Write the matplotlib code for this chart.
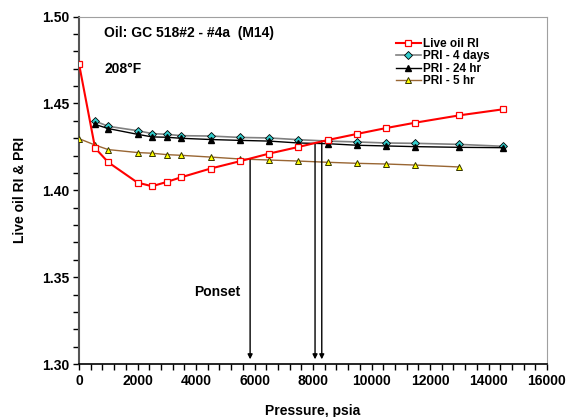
import numpy as np
import matplotlib
matplotlib.use("Agg")
import matplotlib.pyplot as plt
from matplotlib.ticker import MultipleLocator

plt.rcParams['font.family'] = ['Liberation Sans', 'DejaVu Sans']
plt.rcParams['font.weight'] = 'bold'

# === datos ===
p_live = [0, 550, 1000, 2000, 2500, 3000, 3500, 4500, 5500, 6500, 7500, 8500,
          9500, 10500, 11500, 13000, 14500]
ri_live = [1.4728, 1.4243, 1.4161, 1.4044, 1.4023, 1.4048, 1.4075, 1.4125,
           1.4167, 1.4211, 1.4249, 1.4289, 1.4324, 1.4358, 1.4389, 1.4431, 1.4466]

p_pri = [550, 1000, 2000, 2500, 3000, 3500, 4500, 5500, 6500, 7500, 8500,
         9500, 10500, 11500, 13000, 14500]
pri_4d = [1.4398, 1.4368, 1.4343, 1.4326, 1.4322, 1.4314, 1.4312, 1.4304,
          1.4301, 1.4291, 1.4283, 1.4278, 1.4272, 1.4270, 1.4264, 1.4253]
pri_24h = [1.4379, 1.4355, 1.4322, 1.4307, 1.4305, 1.4299, 1.4292, 1.4287,
           1.4283, 1.4272, 1.4268, 1.4259, 1.4255, 1.4251, 1.4247, 1.4245]

p_5h = [0, 550, 1000, 2000, 2500, 3000, 3500, 4500, 5500, 6500, 7500, 8500,
        9500, 10500, 11500, 13000]
pri_5h = [1.4297, 1.4260, 1.4234, 1.4217, 1.4213, 1.4205, 1.4201, 1.4191,
          1.4180, 1.4174, 1.4168, 1.4161, 1.4155, 1.4151, 1.4145, 1.4134]

# Ponset: presion y RI donde arranca cada flecha
p_onset = [5850, 8070, 8300]
ri_onset = [1.4182, 1.4268, 1.4283]

fig = plt.figure(figsize=(5.68, 4.17), dpi=100)
ax = fig.add_axes([79/568, 1-364/417, (547-79)/568, (364-16.5)/417])

ax.plot(p_live, ri_live, color='#ff0000', lw=1.5, marker='s', ms=4.5,
        mfc='white', mec='#ff0000', mew=0.9, label='Live oil RI', zorder=4)
ax.plot(p_pri, pri_4d, color='#808080', lw=1.2, marker='D', ms=4,
        mfc='#33cccc', mec='black', mew=0.6, label='PRI - 4 days', zorder=3)
ax.plot(p_pri, pri_24h, color='black', lw=1.0, marker='^', ms=5,
        mfc='black', mec='black', label='PRI - 24 hr', zorder=3)
ax.plot(p_5h, pri_5h, color='#996633', lw=1.0, marker='^', ms=5,
        mfc='#ffff00', mec='#333300', mew=0.7, label='PRI - 5 hr', zorder=3)

for p, r in zip(p_onset, ri_onset):
    ax.annotate('', xy=(p, 1.3027), xytext=(p, r),
                arrowprops=dict(arrowstyle='-|>', color='black', lw=1.0,
                                mutation_scale=7, shrinkA=0, shrinkB=0))

ax.text(3930, 1.3414, 'Ponset', fontsize=10, fontweight='bold', va='center')
ax.text(860, 1.4906, 'Oil: GC 518#2 - #4a  (M14)', fontsize=10,
        fontweight='bold', va='center')
ax.text(860, 1.4695, '208°F', fontsize=10, fontweight='bold', va='center')

ax.set_xlim(0, 16000)
ax.set_ylim(1.30, 1.50)
ax.xaxis.set_major_locator(MultipleLocator(2000))
ax.xaxis.set_minor_locator(MultipleLocator(400))
ax.yaxis.set_major_locator(MultipleLocator(0.05))
ax.yaxis.set_minor_locator(MultipleLocator(0.01))
ax.yaxis.set_major_formatter(matplotlib.ticker.FormatStrFormatter('%.2f'))
ax.tick_params(which='both', direction='out', length=4, width=1,
               labelsize=10, pad=3)

for lbl in ax.get_xticklabels() + ax.get_yticklabels():
    lbl.set_fontweight('bold')

ax.spines['top'].set_color('#a0a0a0')
ax.spines['right'].set_color('#a0a0a0')
ax.spines['left'].set_color('#555555')
ax.spines['left'].set_linewidth(1.5)
ax.spines['bottom'].set_color('black')
ax.spines['bottom'].set_linewidth(1.2)

ax.set_xlabel('Pressure, psia', fontsize=10, fontweight='bold', labelpad=12)
ax.set_ylabel('Live oil RI & PRI', fontsize=10, fontweight='bold', labelpad=11)

leg = ax.legend(loc='upper left', bbox_to_anchor=(396/568, 1-38/417),
                bbox_transform=fig.transFigure, frameon=False,
                prop=dict(size=8.5, weight='bold'), handlelength=2.1,
                handletextpad=0.15, labelspacing=0.04, borderpad=0,
                borderaxespad=0)

fig.savefig('out.png', dpi=100)
